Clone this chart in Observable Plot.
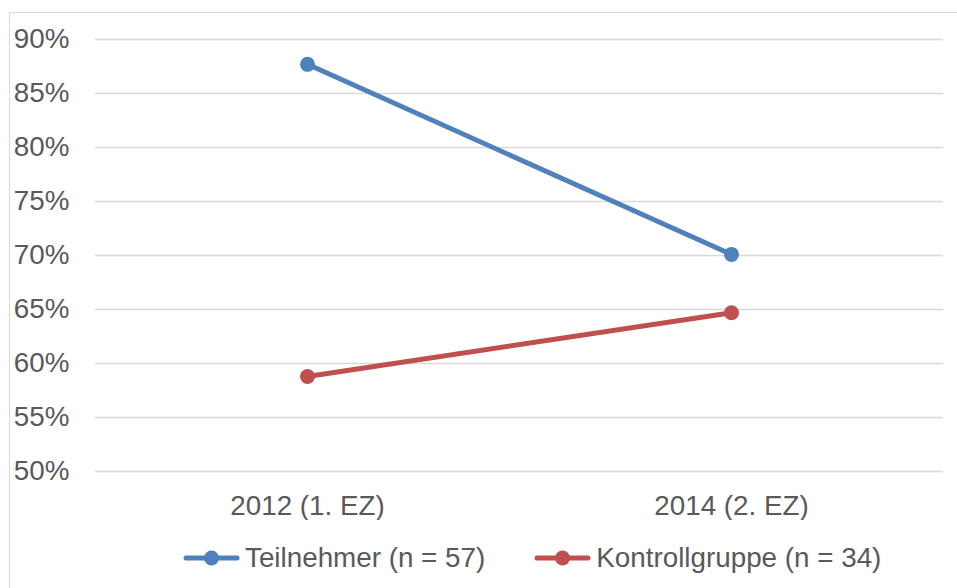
<!DOCTYPE html>
<html>
<head>
<meta charset="utf-8">
<script src="https://cdn.jsdelivr.net/npm/d3@7"></script>
<script src="https://cdn.jsdelivr.net/npm/@observablehq/plot@0.6"></script>
<style>
  html, body { margin: 0; padding: 0; background: #fff; }
  body { width: 957px; height: 588px; position: relative; overflow: hidden; font-family: "Liberation Sans", Arial, sans-serif; }
  #frame { position: absolute; left: 9px; top: 12px; width: 960px; height: 590px; border: 1px solid #d9d9d9; box-sizing: border-box; }
  #chart { position: absolute; left: 0; top: 0; }
  #legend { position: absolute; left: 183px; top: 542px; display: flex; align-items: center; font-size: 27.8px; color: #595959; white-space: nowrap; }
  .item { display: flex; align-items: center; }
  .item svg { margin-right: 5px; }
  .gap { width: 49px; }
</style>
</head>
<body>
<div id="frame"></div>
<div id="chart"></div>
<div id="legend"></div>
<script>
const years = ["2012 (1. EZ)", "2014 (2. EZ)"];
const teilnehmer = [87.7, 70.1];
const kontroll = [58.8, 64.7];
const seriesNames = ["Teilnehmer (n = 57)", "Kontrollgruppe (n = 34)"];
const seriesColors = ["#4F81BD", "#C0504D"];
const yTicks = [50, 55, 60, 65, 70, 75, 80, 85, 90];

const data = [];
years.forEach((y, i) => {
  data.push({year: y, value: teilnehmer[i], series: seriesNames[0]});
  data.push({year: y, value: kontroll[i], series: seriesNames[1]});
});

const chart = Plot.plot({
  width: 957,
  height: 520,
  marginLeft: 95,
  marginRight: 14,
  marginTop: 39,
  marginBottom: 49,
  style: {fontFamily: "Liberation Sans, Arial, sans-serif", fontSize: "27.8px", color: "#595959", background: "transparent"},
  x: {type: "point", domain: years, padding: 0.5, label: null, tickSize: 0, tickPadding: 24},
  y: {domain: [50, 90], ticks: yTicks, tickFormat: d => d + "%", label: null, tickSize: 0, tickPadding: 26},
  color: {domain: seriesNames, range: seriesColors},
  marks: [
    Plot.gridY(yTicks, {stroke: "#d9d9d9", strokeOpacity: 1, strokeWidth: 1.3}),
    Plot.line(data, {x: "year", y: "value", z: "series", stroke: "series", strokeWidth: 5}),
    Plot.dot(data, {x: "year", y: "value", fill: "series", r: 7.5}),
    Plot.axisX({tickSize: 0, tickPadding: 24, fill: "#595959"}),
    Plot.axisY({ticks: yTicks, tickFormat: d => d + "%", tickSize: 0, tickPadding: 26, fill: "#595959"})
  ]
});
document.getElementById("chart").appendChild(chart);

const legend = document.getElementById("legend");
seriesNames.forEach((name, i) => {
  if (i > 0) { const g = document.createElement("div"); g.className = "gap"; legend.appendChild(g); }
  const item = document.createElement("div");
  item.className = "item";
  item.innerHTML = `<svg width="57" height="20"><line x1="3" x2="54" y1="10" y2="10" stroke="${seriesColors[i]}" stroke-width="5" stroke-linecap="round"/><circle cx="28.5" cy="10" r="7.5" fill="${seriesColors[i]}"/></svg><span>${name}</span>`;
  legend.appendChild(item);
});
</script>
</body>
</html>
